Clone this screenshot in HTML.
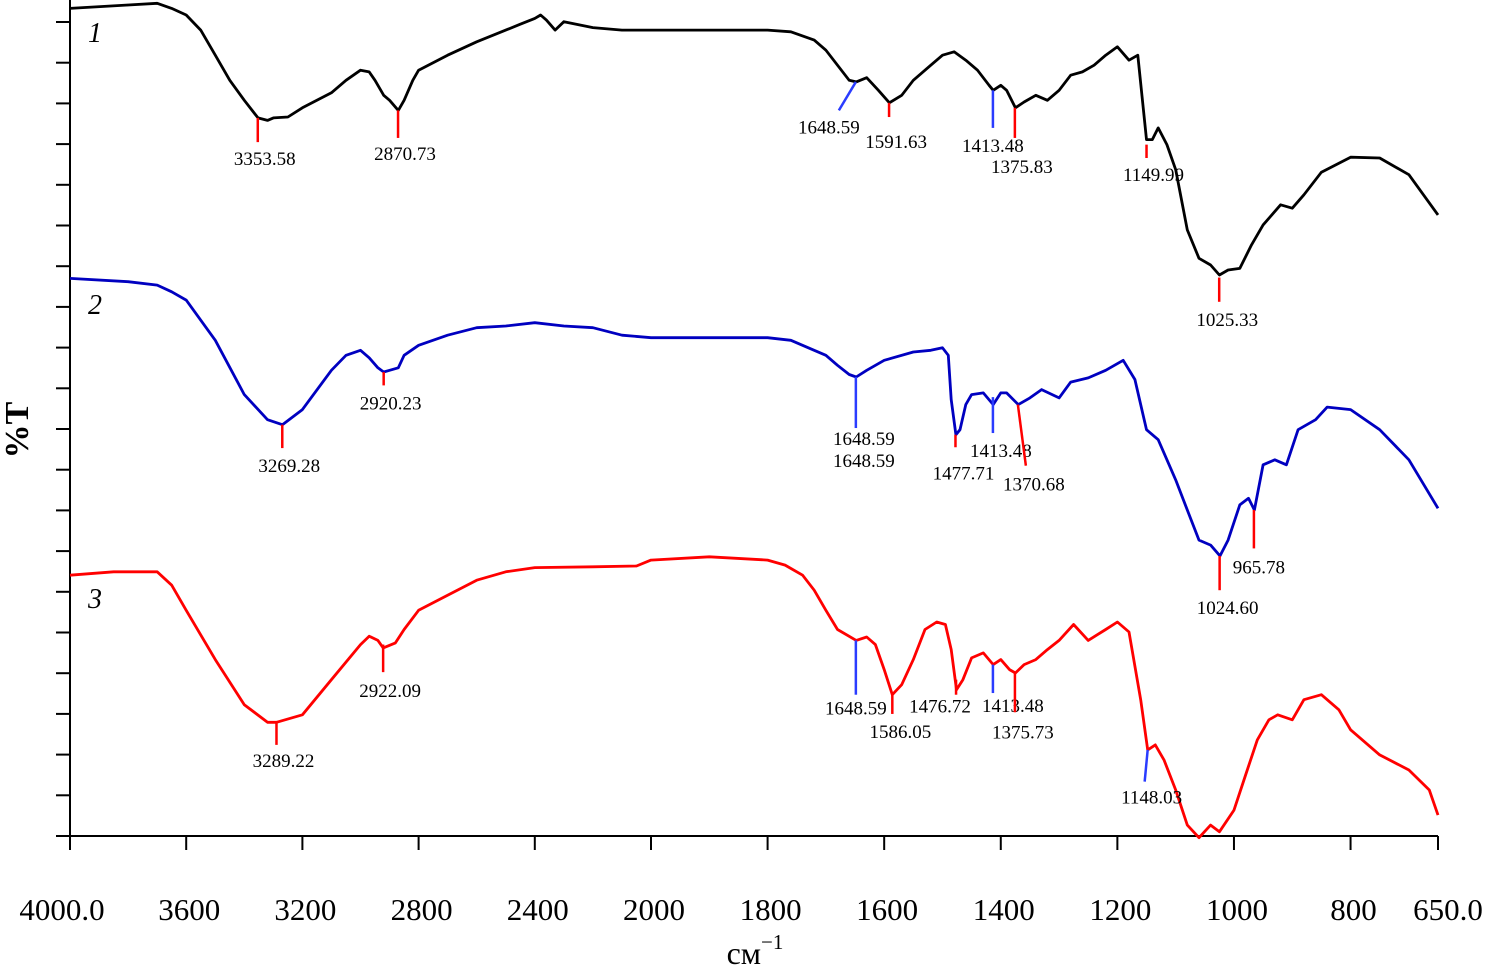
<!DOCTYPE html>
<html><head><meta charset="utf-8"><style>
body{margin:0;background:#fff}
svg{display:block}
text{font-family:"Liberation Serif",serif;fill:#000}
.tick{font-size:31px}
.ann{font-size:19px}
</style></head><body>
<svg id="chart" width="1489" height="966" viewBox="0 0 1489 966" xmlns="http://www.w3.org/2000/svg">
<g id="axes"></g>
<g id="curves"></g>
<g id="anns"></g>
<text transform="translate(28,430) rotate(-90)" text-anchor="middle" font-size="34" font-weight="bold">%T</text>
<text x="755" y="964" text-anchor="middle" font-size="32">см<tspan font-size="21" dy="-15">−1</tspan></text>
<text x="88" y="42" font-size="28" font-style="italic">1</text>
<text x="88" y="314" font-size="28" font-style="italic">2</text>
<text x="88" y="608" font-size="28" font-style="italic">3</text>
</svg>
<script>
const xTickValues=[4000,3600,3200,2800,2400,2000,1800,1600,1400,1200,1000,800,650];
const xTickLabels=["4000.0","3600","3200","2800","2400","2000","1800","1600","1400","1200","1000","800","650.0"];
const wn1=[4000,3800,3700,3650,3600,3550,3500,3450,3400,3353,3320,3300,3250,3200,3150,3100,3050,3000,2970,2950,2920,2900,2870,2850,2820,2800,2750,2700,2600,2500,2450,2400,2380,2360,2330,2300,2200,2100,2000,1900,1800,1760,1720,1700,1680,1660,1648,1630,1610,1591,1570,1550,1520,1500,1480,1460,1440,1420,1413,1400,1390,1375,1360,1340,1320,1300,1280,1260,1240,1220,1200,1180,1165,1150,1140,1130,1115,1100,1080,1060,1040,1025,1010,990,970,950,920,900,880,850,800,750,700,650];
const t1=[99.0,99.4,99.6,99.0,98.2,96.4,93.4,90.4,88.0,85.9,85.6,85.9,86.0,87.1,88.0,88.9,90.4,91.6,91.4,90.4,88.6,88.0,86.8,88.0,90.4,91.6,92.5,93.4,95.0,96.4,97.1,97.8,98.2,97.6,96.4,97.4,96.7,96.4,96.4,96.4,96.4,96.2,95.2,94.0,92.2,90.4,90.2,90.7,89.2,87.7,88.6,90.4,92.2,93.4,93.8,92.8,91.6,89.8,89.2,89.8,89.2,87.1,87.8,88.6,88.0,89.2,91.0,91.4,92.2,93.4,94.4,92.8,93.4,83.3,83.3,84.7,82.7,79.7,72.5,69.1,68.3,67.1,67.7,67.9,70.7,73.1,75.5,75.1,76.7,79.4,81.2,81.1,79.1,74.3];
const wn2=[4000,3800,3700,3650,3600,3500,3400,3320,3269,3200,3100,3050,3000,2970,2940,2920,2900,2870,2850,2800,2700,2600,2500,2400,2300,2200,2100,2000,1900,1800,1760,1720,1700,1680,1660,1648,1630,1600,1550,1520,1500,1490,1485,1477,1470,1460,1450,1430,1413,1400,1390,1370,1350,1330,1300,1280,1250,1220,1190,1170,1150,1130,1100,1080,1060,1040,1024,1010,990,975,965,950,930,910,890,860,840,800,750,700,650];
const t2=[66.7,66.3,65.9,65.1,64.1,59.3,52.8,49.8,49.2,51.0,55.7,57.5,58.1,57.2,56.0,55.5,55.7,56.0,57.5,58.7,59.9,60.8,61.0,61.4,61.0,60.8,59.9,59.6,59.6,59.6,59.3,58.1,57.5,56.3,55.2,54.9,55.7,56.9,57.9,58.1,58.4,57.5,52.2,48.0,48.6,51.6,52.8,53.0,51.6,53.0,53.0,51.6,52.4,53.4,52.4,54.3,54.8,55.7,56.9,54.6,48.6,47.4,42.6,39.0,35.4,34.8,33.5,35.4,39.6,40.4,39.0,44.4,45.0,44.4,48.6,49.8,51.3,51.0,48.6,45.0,39.2];
const wn3=[4000,3850,3700,3650,3600,3500,3400,3320,3289,3200,3100,3000,2970,2940,2922,2880,2850,2800,2700,2600,2500,2400,2200,2050,2000,1900,1800,1770,1740,1720,1700,1680,1648,1630,1615,1600,1586,1570,1550,1530,1510,1495,1485,1476,1465,1450,1430,1413,1400,1385,1375,1360,1340,1320,1300,1275,1250,1220,1200,1180,1160,1148,1135,1120,1100,1080,1060,1040,1025,1000,980,960,940,925,900,880,850,820,800,750,700,665,650];
const t3=[31.2,31.6,31.6,30.0,27.0,21.1,15.7,13.6,13.6,14.5,18.7,22.9,23.9,23.4,22.5,23.1,24.7,27.0,28.8,30.6,31.6,32.1,32.2,32.3,33.0,33.4,33.0,32.4,31.2,29.4,27.0,24.7,23.4,23.8,22.9,19.9,16.9,18.1,21.1,24.7,25.6,25.3,22.3,17.5,18.7,21.3,21.9,20.5,21.1,19.9,19.5,20.5,21.1,22.3,23.4,25.3,23.4,24.7,25.6,24.4,16.3,10.3,10.9,9.1,5.5,1.3,-0.2,1.3,0.5,3.1,7.3,11.5,13.9,14.5,13.9,16.3,16.9,15.1,12.7,9.7,7.9,5.5,2.5];
const annWn=[3353.58,2870.73,1648.59,1591.63,1413.48,1375.83,1149.99,1025.33,3269.28,2920.23,1648.59,1477.71,1413.48,1370.68,1024.60,965.78,3289.22,2922.09,1648.59,1586.05,1476.72,1413.48,1375.73,1148.03];
const annLabel=["3353.58","2870.73","1648.59","1591.63","1413.48","1375.83","1149.99","1025.33","3269.28","2920.23","1648.59\n1648.59","1477.71","1413.48","1370.68","1024.60","965.78","3289.22","2922.09","1648.59","1586.05","1476.72","1413.48","1375.73","1148.03"];
const annColor=["r","r","b","r","b","r","r","r","r","r","b","r","b","r","r","r","r","r","b","r","r","b","r","b"];
const annTop=[85.9,86.8,90.2,87.7,89.2,87.1,82.7,66.8,49.2,55.5,54.9,48.0,52.5,51.6,33.5,39.0,13.6,22.9,23.4,16.9,18.7,20.5,19.5,10.3];
const annBot=[83.0,83.5,86.8,86.0,84.7,83.5,81.1,63.9,46.4,53.9,48.8,46.5,48.2,44.3,29.4,34.4,10.9,19.6,16.9,14.6,16.9,17.1,14.8,6.5];
const annSlant=[0,0,-17,0,0,0,0,0,0,0,0,0,0,8,0,0,0,0,0,0,0,0,0,-3];
const annLx=[7,7,-10,7,0,7,7,8,7,7,8,8,8,8,8,5,7,7,0,8,-16,20,8,7];
const annLy=[23,22,23,31,24,35,23,24,24,24,17,32,24,25,24,25,22,25,20,24,18,19,26,22];

const NS="http://www.w3.org/2000/svg";
const X0=70,XM=651,X1=1438,YB=836,YT=0;
function xs(w){return w>=2000?X0+(4000-w)*(XM-X0)/2000:XM+(2000-w)*(X1-XM)/1350;}
function ys(t){return YB-(t/100)*(YB-YT);}
function mk(tag,attrs,parent){const e=document.createElementNS(NS,tag);for(const k in attrs)e.setAttribute(k,attrs[k]);parent.appendChild(e);return e;}
const axes=document.getElementById('axes');
let a=mk('line',{x1:X0,y1:0,x2:X0,y2:YB,stroke:'#000','stroke-width':2},axes);


a=mk('line',{x1:56,y1:YB,x2:X1,y2:YB,stroke:'#000','stroke-width':2},axes);


for(let i=0;i<20;i++){const y=YB-(i+1)*40.7;
 const t=mk('line',{x1:56,y1:y,x2:X0,y2:y,stroke:'#000','stroke-width':2},axes);
 
 }
xTickValues.forEach((v,i)=>{const x=xs(v);
 const t=mk('line',{x1:x,y1:YB,x2:x,y2:850,stroke:'#000','stroke-width':2},axes);
 
 
 let lx=x+3; if(i==0)lx=62; if(i==xTickValues.length-1)lx=1448;
 const l=mk('text',{x:lx,y:920,'text-anchor':'middle',class:'tick'},axes);
 l.textContent=xTickLabels[i];
 
 });
const cg=document.getElementById('curves');
function curve(wn,t,col,name){const d=wn.map((w,i)=>(i?'L':'M')+xs(w).toFixed(1)+' '+ys(t[i]).toFixed(1)).join(' ');
 const p=mk('path',{d:d,fill:'none',stroke:col,'stroke-width':2.8,'stroke-linejoin':'round'},cg);
 
 }
curve(wn1,t1,'#000','spectrum-1');
curve(wn2,t2,'#0000c0','spectrum-2');
curve(wn3,t3,'#ff0000','spectrum-3');
const ag=document.getElementById('anns');
annWn.forEach((w,i)=>{const x=xs(w);const c=annColor[i]=='r'?'#ff0000':'#2a3cff';
 const y1=ys(annTop[i]),y2=ys(annBot[i]);
 const l=mk('line',{x1:x,y1:y1,x2:x+annSlant[i],y2:y2,stroke:c,'stroke-width':2.5},ag);
 
 
 const parts=annLabel[i].split('\n');
 parts.forEach((s,j)=>{const tx=mk('text',{x:x+annSlant[i]+annLx[i],y:y2+annLy[i]+j*22,'text-anchor':'middle',class:'ann'},ag);
  tx.textContent=s;
  
  });});
</script>
</body></html>
